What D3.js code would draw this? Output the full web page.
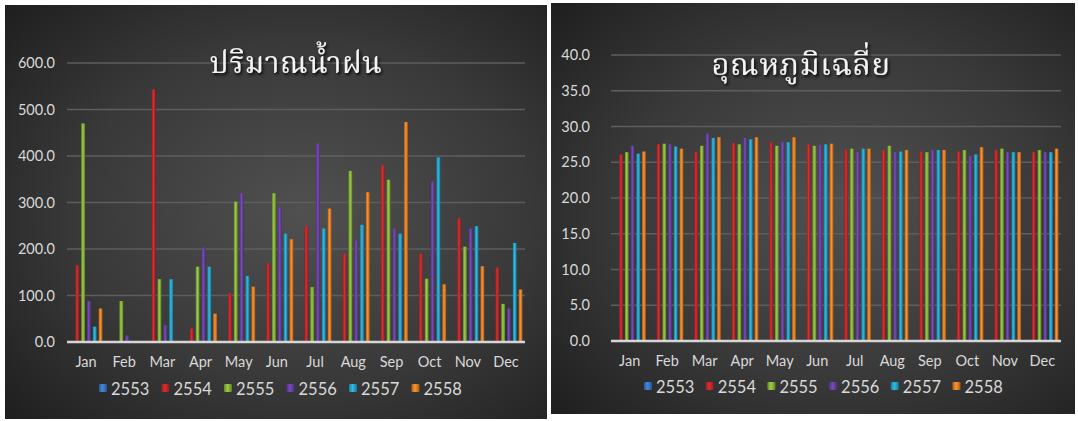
<!DOCTYPE html>
<html>
<head>
<meta charset="utf-8">
<script src="https://cdn.jsdelivr.net/npm/d3@7"></script>
<style>
  html, body { margin: 0; padding: 0; background: #ffffff; }
  svg { display: block; }
  .tick-label { font-family: Lato, "Open Sans", sans-serif; fill: #d9d9d9; }
  .title { font-family: "Noto Serif Thai", "Noto Sans Thai", "Tlwg Typo", Loma, Garuda, Norasi, serif; fill: #f4f4f4; }
</style>
</head>
<body>
<svg id="chart" width="1078" height="421"></svg>
<script>
// Months and series (Buddhist-era years)
const months = ["Jan", "Feb", "Mar", "Apr", "May", "Jun", "Jul", "Aug", "Sep", "Oct", "Nov", "Dec"];
const years = ["2553", "2554", "2555", "2556", "2557", "2558"];
const yearColors = ["#3a78c8", "#c3282b", "#8ab63a", "#6a43a6", "#27a7cf", "#ea8226"];

// Rainfall (mm) per month
const rain2553 = [null, null, null, null, null, null, null, null, null, null, null, null];
const rain2554 = [165, 0, 543, 29, 105, 169, 250, 190, 380, 190, 266, 160];
const rain2555 = [470, 88, 135, 162, 302, 320, 118, 368, 349, 136, 205, 82];
const rain2556 = [88, 14, 36, 203, 320, 289, 427, 218, 244, 345, 244, 72];
const rain2557 = [33, 0, 135, 162, 142, 233, 244, 252, 233, 397, 249, 213];
const rain2558 = [72, 0, 0, 61, 119, 221, 287, 322, 473, 124, 163, 113];
const rainTicks = [0, 100, 200, 300, 400, 500, 600];

// Average temperature (°C) per month
const temp2553 = [null, null, null, null, null, null, null, null, null, null, null, null];
const temp2554 = [26.1, 27.5, 26.4, 27.7, 27.8, 27.5, 26.7, 26.7, 26.5, 26.5, 26.7, 26.4];
const temp2555 = [26.4, 27.6, 27.3, 27.5, 27.3, 27.3, 26.9, 27.3, 26.4, 26.7, 26.9, 26.7];
const temp2556 = [27.3, 27.5, 29.0, 28.4, 27.8, 27.4, 26.4, 26.4, 26.7, 25.9, 26.4, 26.4];
const temp2557 = [26.2, 27.2, 28.4, 28.2, 27.8, 27.5, 26.9, 26.5, 26.7, 26.1, 26.4, 26.4];
const temp2558 = [26.5, 26.9, 28.5, 28.5, 28.5, 27.6, 26.9, 26.7, 26.7, 27.1, 26.4, 26.9];
const tempTicks = [0, 5, 10, 15, 20, 25, 30, 35, 40];

const svg = d3.select("#chart");
const defs = svg.append("defs");

// Dark radial backdrop
const bg = defs.append("radialGradient").attr("id", "bgGrad")
  .attr("cx", "55%").attr("cy", "50%").attr("r", "75%");
bg.append("stop").attr("offset", "0%").attr("stop-color", "#505050");
bg.append("stop").attr("offset", "55%").attr("stop-color", "#393939");
bg.append("stop").attr("offset", "100%").attr("stop-color", "#1e1e1e");

// Cylinder-like shading for each series colour
yearColors.forEach((c, i) => {
  const g = defs.append("linearGradient").attr("id", "bar" + i)
    .attr("x1", "0%").attr("x2", "100%").attr("y1", "0%").attr("y2", "0%");
  const col = d3.color(c);
  g.append("stop").attr("offset", "0%").attr("stop-color", col.darker(0.8));
  g.append("stop").attr("offset", "45%").attr("stop-color", col.brighter(0.35));
  g.append("stop").attr("offset", "100%").attr("stop-color", col.darker(1.0));
});

const shadow = defs.append("filter").attr("id", "titleShadow")
  .attr("x", "-10%").attr("y", "-30%").attr("width", "120%").attr("height", "160%");
shadow.append("feDropShadow").attr("dx", 1.5).attr("dy", 2).attr("stdDeviation", 1.5)
  .attr("flood-color", "#000").attr("flood-opacity", 0.9);

function drawChart(cfg) {
  const g = svg.append("g");
  g.append("rect").attr("x", cfg.box[0]).attr("y", cfg.box[1])
    .attr("width", cfg.box[2]).attr("height", cfg.box[3]).attr("fill", "url(#bgGrad)");

  const x0 = d3.scaleBand().domain(months).range(cfg.xRange).paddingInner(0.085).paddingOuter(0.04);
  const x1 = d3.scaleBand().domain(years).range([0, x0.bandwidth()]).paddingInner(0.35).paddingOuter(0.175);
  const y = d3.scaleLinear().domain([0, cfg.yMax]).range(cfg.yRange);

  // gridlines
  g.append("g").selectAll("line").data(cfg.ticks.filter(t => t > 0)).join("line")
    .attr("x1", cfg.xRange[0]).attr("x2", cfg.xRange[1])
    .attr("y1", d => y(d)).attr("y2", d => y(d))
    .attr("stroke", "#5e5e5e").attr("stroke-width", 1.6);

  // y tick labels
  g.append("g").selectAll("text").data(cfg.ticks).join("text")
    .attr("class", "tick-label")
    .attr("x", cfg.yLabelX).attr("y", d => y(d) + 5)
    .attr("text-anchor", "end").attr("font-size", 14.5)
    .text(d => d3.format(".1f")(d));

  // bars
  const groups = g.append("g").selectAll("g").data(months).join("g")
    .attr("transform", m => `translate(${x0(m)},0)`);
  groups.selectAll("rect")
    .data((m, mi) => years.map((yr, si) => ({ yr, si, v: cfg.series[si][mi] })).filter(d => d.v != null && d.v > 0))
    .join("rect")
    .attr("x", d => x1(d.yr))
    .attr("width", x1.bandwidth())
    .attr("y", d => y(d.v))
    .attr("height", d => y(0) - y(d.v))
    .attr("fill", d => `url(#bar${d.si})`);

  // baseline axis
  g.append("line").attr("x1", cfg.xRange[0]).attr("x2", cfg.xRange[1])
    .attr("y1", y(0)).attr("y2", y(0)).attr("stroke", "#d6d6d6").attr("stroke-width", 2.5);

  // month labels via bottom axis
  const ax = g.append("g").attr("transform", `translate(0,${y(0)})`)
    .call(d3.axisBottom(x0).tickSize(0).tickPadding(15));
  ax.select(".domain").remove();
  ax.selectAll("text").attr("class", "tick-label").attr("font-size", 14.5)
    .attr("fill", "#d9d9d9").attr("dy", "0.71em");

  // legend
  const leg = g.append("g").selectAll("g").data(years).join("g")
    .attr("transform", (d, i) => `translate(${cfg.legendX + i * cfg.legendStep},${cfg.legendY})`);
  leg.append("rect").attr("x", -4).attr("y", -11).attr("width", 8).attr("height", 8)
    .attr("rx", 1.2).attr("fill", (d, i) => `url(#bar${i})`);
  leg.append("text").attr("class", "tick-label").attr("x", 8).attr("y", 0)
    .attr("font-size", 16.5).text(d => d);

  // title
  g.append("text").attr("class", "title").attr("x", cfg.titleX).attr("y", cfg.titleY)
    .attr("text-anchor", "middle").attr("font-size", cfg.titleSize).attr("filter", "url(#titleShadow)")
    .attr("letter-spacing", 0.5)
    .text(cfg.title);
}

drawChart({
  box: [5, 5, 542, 414],
  xRange: [67, 525], yRange: [342, 63], yMax: 600, ticks: rainTicks,
  yLabelX: 55,
  series: [rain2553, rain2554, rain2555, rain2556, rain2557, rain2558],
  legendX: 103, legendStep: 62.5, legendY: 395,
  title: "ปริมาณน้ำฝน", titleX: 296, titleY: 73, titleSize: 30
});

drawChart({
  box: [551, 3, 524, 411],
  xRange: [611, 1061], yRange: [341, 55], yMax: 40, ticks: tempTicks,
  yLabelX: 590,
  series: [temp2553, temp2554, temp2555, temp2556, temp2557, temp2558],
  legendX: 648, legendStep: 61.7, legendY: 393,
  title: "อุณหภูมิเฉลี่ย", titleX: 801, titleY: 75, titleSize: 31
});
</script>
</body>
</html>
